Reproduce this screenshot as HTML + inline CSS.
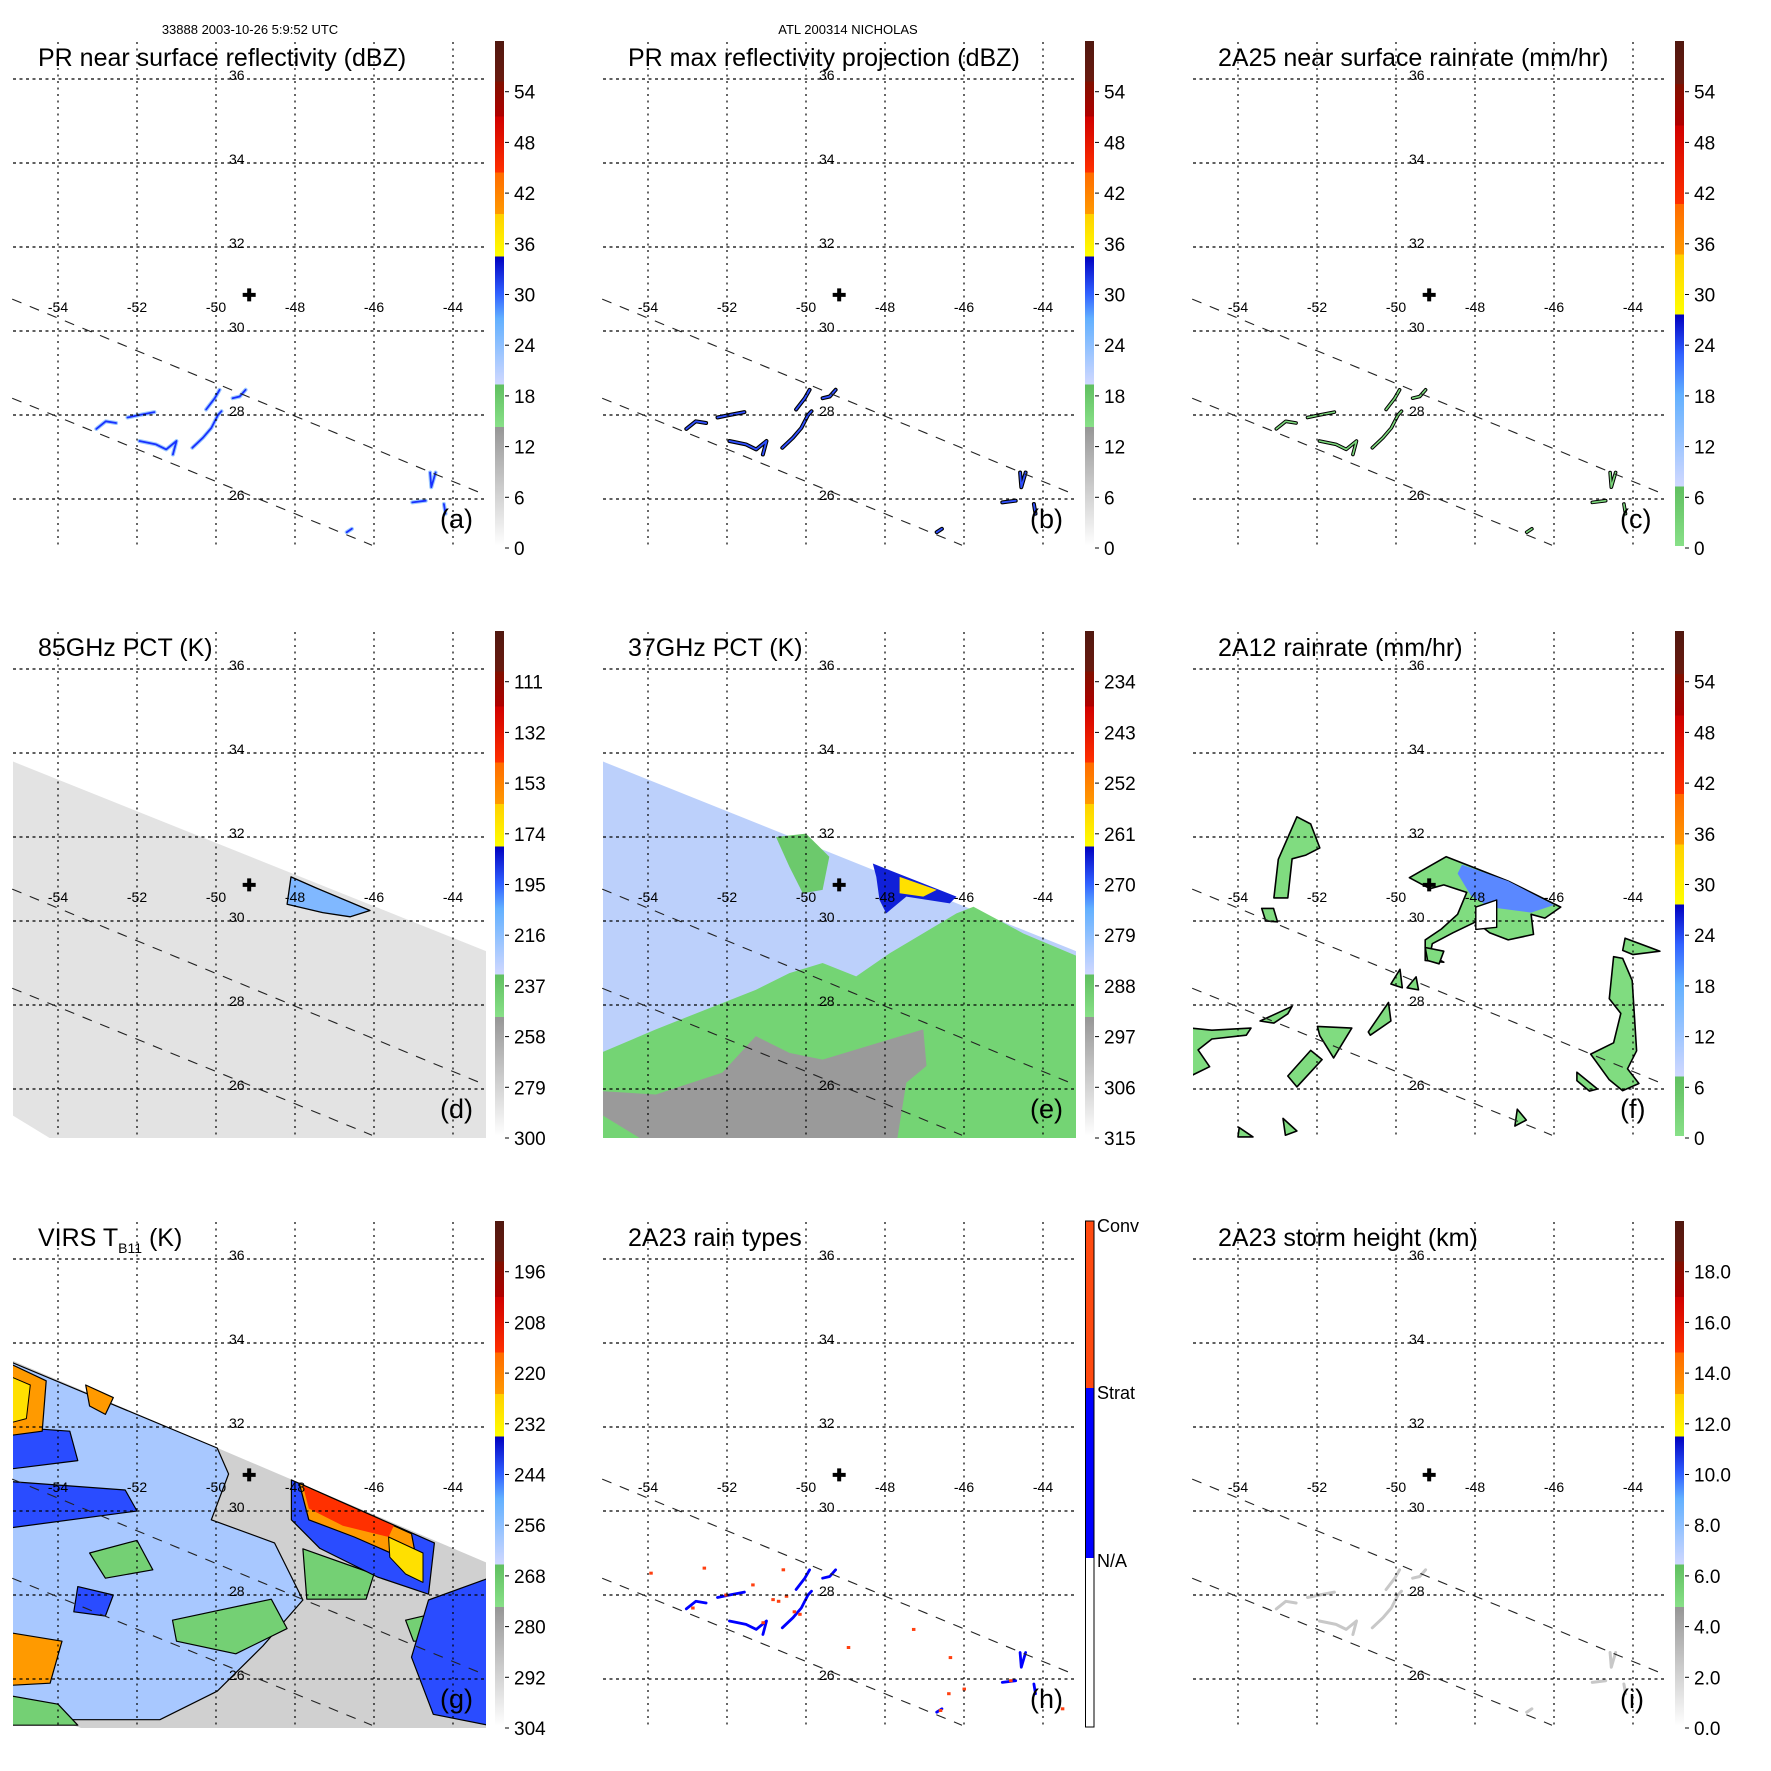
<!DOCTYPE html>
<html><head><meta charset="utf-8">
<style>
html,body{margin:0;padding:0;background:#fff;}
svg{display:block;font-family:"Liberation Sans",Arial,sans-serif;}
</style></head>
<body>
<svg id="fig" xmlns="http://www.w3.org/2000/svg" width="1771" height="1771" viewBox="0 0 1771 1771">
<defs id="defs"></defs>
<text x="250" y="34" font-size="13" text-anchor="middle">33888 2003-10-26 5:9:52 UTC</text>
<text x="848" y="34" font-size="13" text-anchor="middle">ATL 200314 NICHOLAS</text>
</svg>
<script>
// ---------- data ----------
const lonTicks = [-54,-52,-50,-48,-46,-44];
const latTicks = [26,28,30,32,34,36];
const stormCenter = [-49.16, 30.86];
const prSwathEdge1 = [[-55.16,30.76],[-43.34,26.16]];
const prSwathEdge2 = [[-55.16,28.4],[-46.05,24.9]];
const tmiSwath = [[-55.2,33.82],[-43.1,29.26],[-43.1,24.7],[-53.98,24.7],[-55.2,25.4]];
const virsSwath = [[-55.2,33.6],[-43.1,28.75],[-43.1,24.7],[-53.0,24.7],[-55.2,25.4]];
const labelsDbz = ['0','6','12','18','24','30','36','42','48','54'];
const labels85 = ['300','279','258','237','216','195','174','153','132','111'];
const labels37 = ['315','306','297','288','279','270','261','252','243','234'];
const labelsVirs = ['304','292','280','268','256','244','232','220','208','196'];
const labelsHeight = ['0.0','2.0','4.0','6.0','8.0','10.0','12.0','14.0','16.0','18.0'];
const rainSegments = [
 [[-53.03,27.67],[-52.79,27.85],[-52.53,27.81]],
 [[-52.24,27.94],[-51.94,28.0],[-51.56,28.07]],
 [[-51.94,27.38],[-51.52,27.3],[-51.26,27.18],[-51.0,27.38],[-51.09,27.06]],
 [[-50.6,27.22],[-50.33,27.46],[-50.12,27.69],[-49.95,28.0],[-49.86,28.09]],
 [[-50.25,28.13],[-50.03,28.4],[-49.91,28.6]],
 [[-49.58,28.4],[-49.4,28.44],[-49.25,28.6]],
 [[-44.58,26.63],[-44.55,26.28],[-44.44,26.63]],
 [[-45.03,25.92],[-44.69,25.96]],
 [[-44.23,25.88],[-44.19,25.65]],
 [[-46.69,25.21],[-46.56,25.29]]
];
const convSpecks = [[-50.58,28.6],[-50.84,27.89],[-50.5,27.97],[-51.35,28.24],[-50.16,27.54],[-52.87,27.69],[-52.03,28.0],[-52.58,28.64],[-53.93,28.52],[-47.28,27.18],[-48.93,26.75],[-46.35,26.51],[-46.39,25.65],[-46.6,25.25],[-44.82,25.96],[-46.0,25.76],[-43.51,25.29],[-51.09,27.34],[-50.7,27.85],[-50.3,27.6]];
const pct85Blue = [[-48.1,31.05],[-47.5,30.8],[-46.1,30.25],[-46.6,30.1],[-47.3,30.2],[-48.2,30.4]];
const pct37Green = [[-55.2,26.86],[-53.8,27.42],[-52.54,27.89],[-51.27,28.36],[-50.42,28.76],[-49.58,29.0],[-48.73,28.68],[-47.88,29.23],[-47.03,29.71],[-46.19,30.18],[-45.76,30.34],[-44.49,29.7],[-43.1,29.15],[-43.1,24.7],[-55.2,24.7]];
const pct37GreenTop = [[-50.76,32.0],[-50.0,32.08],[-49.41,31.53],[-49.58,30.74],[-50.08,30.66],[-50.42,31.29]];
const pct37Grey = [[-55.2,25.95],[-53.8,25.87],[-52.12,26.39],[-51.27,27.26],[-50.42,26.86],[-49.58,26.7],[-48.73,26.94],[-47.88,27.18],[-47.03,27.42],[-46.95,26.55],[-47.46,26.15],[-47.71,24.7],[-53.98,24.7],[-55.2,25.4]];
const pct37Blue = [[-48.31,31.37],[-47.88,31.21],[-46.19,30.58],[-46.36,30.42],[-47.46,30.58],[-47.97,30.18],[-48.14,30.5],[-48.22,31.05]];
const pct37Yellow = [[-47.63,31.05],[-46.69,30.74],[-47.03,30.58],[-47.63,30.66]];
const rain12Blobs = [
 [[-49.66,31.03],[-48.73,31.53],[-48.21,31.34],[-47.16,30.95],[-45.83,30.33],[-46.23,30.07],[-46.58,30.16],[-46.52,29.68],[-47.16,29.55],[-47.63,29.72],[-47.98,29.98],[-48.56,29.72],[-49.08,29.46],[-49.14,29.2],[-48.79,29.02],[-49.26,29.06],[-49.26,29.55],[-48.85,29.81],[-48.44,30.16],[-48.21,30.68],[-48.79,30.86],[-49.14,30.77]],
 [[-53.09,30.55],[-52.98,31.47],[-52.51,32.48],[-52.16,32.31],[-51.93,31.74],[-52.28,31.57],[-52.63,31.48],[-52.74,30.55]],
 [[-53.4,30.3],[-53.1,30.3],[-53.0,29.98],[-53.3,30.0]],
 [[-44.49,29.15],[-44.26,29.11],[-44.02,28.58],[-43.91,26.91],[-44.14,26.48],[-43.85,26.13],[-44.26,25.96],[-44.6,26.22],[-45.07,26.83],[-44.49,27.1],[-44.31,27.8],[-44.6,28.15]],
 [[-44.2,29.59],[-43.32,29.28],[-44.0,29.2],[-44.26,29.3]],
 [[-45.42,26.4],[-44.9,26.0],[-45.1,25.95],[-45.42,26.2]],
 [[-55.2,27.45],[-54.66,27.4],[-53.67,27.45],[-53.79,27.28],[-54.66,27.19],[-55.01,26.93],[-54.72,26.53],[-55.2,26.31]],
 [[-53.44,27.62],[-52.63,27.97],[-52.74,27.79],[-53.09,27.57]],
 [[-51.99,27.49],[-51.12,27.45],[-51.58,26.74],[-51.93,27.27]],
 [[-52.74,26.31],[-52.16,26.92],[-51.87,26.7],[-52.51,26.05]],
 [[-50.7,27.36],[-50.19,28.06],[-50.13,27.62],[-50.65,27.28]],
 [[-50.13,28.5],[-49.9,28.85],[-49.84,28.41]],
 [[-49.72,28.41],[-49.49,28.67],[-49.43,28.36]],
 [[-49.26,29.37],[-48.79,29.28],[-48.91,28.98],[-49.2,29.06]],
 [[-46.93,25.52],[-46.7,25.26],[-46.99,25.12]],
 [[-53.97,25.08],[-53.62,24.86],[-54.0,24.86]],
 [[-52.86,25.3],[-52.51,25.0],[-52.8,24.9]]
];
const rain12Blue = [[-48.33,31.34],[-47.16,30.95],[-46.0,30.38],[-46.58,30.2],[-47.63,30.33],[-48.1,30.6],[-48.44,31.13]];
const rain12Hole = [[-47.98,30.33],[-47.45,30.5],[-47.45,29.85],[-47.98,29.8]];
const virsCloud = [[-55.2,33.55],[-49.97,31.5],[-49.68,30.88],[-50.12,29.79],[-48.52,29.24],[-47.8,27.88],[-48.81,26.79],[-49.97,25.71],[-51.42,25.03],[-53.73,25.03],[-55.2,25.43]];
const virsGreen = [[[-51.1,27.4],[-48.6,27.9],[-48.2,27.2],[-49.5,26.6],[-51.0,26.9]],[[-53.2,29.0],[-52.0,29.3],[-51.6,28.6],[-52.8,28.4]],[[-55.2,25.6],[-54.0,25.4],[-53.5,24.9],[-55.2,24.9]],[[-47.8,29.1],[-46.0,28.5],[-46.2,27.9],[-47.7,27.9]],[[-45.2,27.4],[-44.3,27.6],[-44.5,26.9],[-45.0,26.9]]];
const virsDeepBlue = [[[-55.2,30.7],[-52.3,30.5],[-52.0,30.0],[-55.2,29.6]],[[-55.2,32.0],[-53.7,31.9],[-53.5,31.2],[-55.2,31.0]],[[-48.09,30.74],[-44.47,29.24],[-44.62,28.02],[-45.92,28.43],[-47.37,29.11],[-48.09,29.79]],[[-44.62,27.88],[-43.1,28.4],[-43.1,24.9],[-44.5,25.16],[-45.05,26.52]],[[-53.5,28.2],[-52.6,28.0],[-52.8,27.5],[-53.6,27.6]]];
const virsOrange = [[[-47.89,30.66],[-45.05,29.46],[-44.9,28.7],[-45.5,28.97],[-46.5,29.38],[-47.65,29.79]],[[-55.2,33.5],[-54.3,33.1],[-54.4,31.9],[-55.2,31.8]],[[-55.2,27.1],[-53.9,26.9],[-54.2,25.9],[-55.2,25.85]],[[-53.3,33.0],[-52.6,32.7],[-52.8,32.3],[-53.2,32.5]]];
const virsRed = [[-47.8,30.6],[-45.5,29.65],[-45.63,29.38],[-46.79,29.65],[-47.65,30.06]];
const virsYellow = [[[-45.63,29.38],[-44.76,29.0],[-44.76,28.3],[-45.2,28.5],[-45.6,28.9]],[[-55.2,33.2],[-54.7,33.0],[-54.8,32.2],[-55.2,32.1]]];

// ---------- helpers ----------
const NS = 'http://www.w3.org/2000/svg';
const svg = document.getElementById('fig');
const defs = document.getElementById('defs');
function px(lon){ return 216 + (lon + 50) * 39.5; }
function py(lat){ return 331 - (lat - 30) * 42; }
function pts(arr){ return arr.map(p => px(p[0]).toFixed(1) + ',' + py(p[1]).toFixed(1)).join(' '); }
function el(tag, parent, attrs){ const e = document.createElementNS(NS, tag); for (const k in attrs) e.setAttribute(k, attrs[k]); parent.appendChild(e); return e; }
function cbY(i){ return 548 - i * 50.7; }

const cmapA = [[0,'#ffffff'],[0.236,'#969696'],[0.236,'#88e088'],[0.32,'#5fbf5f'],[0.32,'#d0d8ff'],[0.45,'#62b0ff'],[0.5,'#3060ff'],[0.573,'#0000c0'],[0.573,'#ffff00'],[0.657,'#ffd000'],[0.657,'#ff9a00'],[0.74,'#ff6a00'],[0.74,'#ff3000'],[0.85,'#d00000'],[0.85,'#b00000'],[0.92,'#801000'],[0.92,'#6a1a10'],[1,'#501810']];
const cmapC = [[0,'#88e088'],[0.118,'#5fbf5f'],[0.118,'#d0d8ff'],[0.3,'#62b0ff'],[0.38,'#3060ff'],[0.458,'#0000c0'],[0.458,'#ffff00'],[0.577,'#ffd000'],[0.577,'#ff9a00'],[0.677,'#ff6a00'],[0.677,'#ff3000'],[0.833,'#d00000'],[0.833,'#b00000'],[0.915,'#801000'],[0.915,'#6a1a10'],[1,'#501810']];
function grad(id, stops){
  const g = el('linearGradient', defs, {id:id, x1:0, y1:1, x2:0, y2:0});
  stops.forEach(s => el('stop', g, {offset:s[0], 'stop-color':s[1]}));
}
grad('cmA', cmapA); grad('cmC', cmapC);

const panels = [
 {id:'a', col:0,row:0, title:'PR near surface reflectivity (dBZ)', cm:'cmA', labels:labelsDbz, kind:'pr'},
 {id:'b', col:1,row:0, title:'PR max reflectivity projection (dBZ)', cm:'cmA', labels:labelsDbz, kind:'prmax'},
 {id:'c', col:2,row:0, title:'2A25 near surface rainrate (mm/hr)', cm:'cmC', labels:labelsDbz, kind:'rain25'},
 {id:'d', col:0,row:1, title:'85GHz PCT (K)', cm:'cmA', labels:labels85, kind:'pct85'},
 {id:'e', col:1,row:1, title:'37GHz PCT (K)', cm:'cmA', labels:labels37, kind:'pct37'},
 {id:'f', col:2,row:1, title:'2A12 rainrate (mm/hr)', cm:'cmC', labels:labelsDbz, kind:'rain12'},
 {id:'g', col:0,row:2, title:'VIRS', cm:'cmA', labels:labelsVirs, kind:'virs'},
 {id:'h', col:1,row:2, title:'2A23 rain types', cm:null, labels:null, kind:'types'},
 {id:'i', col:2,row:2, title:'2A23 storm height (km)', cm:'cmA', labels:labelsHeight, kind:'height'}
];

function poly(g, arr, fill, stroke, sw, name){
  const p = el('polygon', g, {points:pts(arr), fill:fill, stroke:stroke||'none', 'stroke-width':sw||0, 'stroke-linejoin':'round'});
  
  
  return p;
}
function segs(g, color, w, name){
  rainSegments.forEach(s => {
    const l = el('polyline', g, {points:pts(s), fill:'none', stroke:color, 'stroke-width':w, 'stroke-linecap':'round', 'stroke-linejoin':'round'});
    
    
  });
}

panels.forEach(P => {
  const g = el('g', svg, {transform:'translate(' + (590*P.col) + ',' + (590*P.row) + ')'});
  
  
  const cp = el('clipPath', defs, {id:'clip' + P.id});
  el('rect', cp, {x:13, y:42, width:473, height:506});
  const data = el('g', g, {'clip-path':'url(#clip' + P.id + ')'});
  
  

  if (P.kind === 'pr') { segs(data, '#9cc8ff', 4, 'reflectivity-echo-halo'); segs(data, '#1830ff', 1.8, 'reflectivity-echo'); }
  if (P.kind === 'prmax') { segs(data, '#000', 4, 'max-reflectivity-contour'); segs(data, '#3050ff', 1.8, 'max-reflectivity-echo'); }
  if (P.kind === 'rain25') { segs(data, '#000', 3.6, 'rainrate-contour'); segs(data, '#7cd87c', 1.6, 'rainrate-echo'); }
  if (P.kind === 'height') { segs(data, '#c8c8c8', 3, 'storm-height-echo'); }
  if (P.kind === 'types') {
    segs(data, '#0000ff', 2.8, 'stratiform-rain');
    convSpecks.forEach(s => {
      const c = el('rect', data, {x:px(s[0])-1.5, y:py(s[1])-1.5, width:3.5, height:3, fill:'#ff4010'});
      
      
    });
  }
  if (P.kind === 'pct85') {
    poly(data, tmiSwath, '#e3e3e3', null, 0, 'pct85-swath');
    poly(data, pct85Blue, '#80b8ff', '#000', 1.3, 'pct85-cold-area');
  }
  if (P.kind === 'pct37') {
    poly(data, tmiSwath, '#bcd0fb', null, 0, 'pct37-swath');
    poly(data, pct37Green, '#74d474', null, 0, 'pct37-warm-area');
    poly(data, pct37GreenTop, '#6cc96c', null, 0, 'pct37-warm-patch');
    poly(data, pct37Grey, '#9a9a9a', null, 0, 'pct37-hot-area');
    poly(data, pct37Blue, '#1020d8', null, 0, 'pct37-cold-area');
    poly(data, pct37Yellow, '#ffe000', null, 0, 'pct37-coldest-area');
  }
  if (P.kind === 'rain12') {
    rain12Blobs.forEach(b => poly(data, b, '#80dc80', '#000', 1.6, 'rain12-blob'));
    poly(data, rain12Blue, '#5a88ff', null, 0, 'rain12-heavy-rain');
    poly(data, rain12Hole, '#ffffff', '#000', 1.4, 'rain12-hole');
  }
  if (P.kind === 'virs') {
    poly(data, virsSwath, '#d0d0d0', null, 0, 'virs-swath');
    poly(data, virsCloud, '#a8c8ff', '#000', 1.2, 'virs-cloud-area');
    virsGreen.forEach(b => poly(data, b, '#74d074', '#000', 1.2, 'virs-green-area'));
    virsDeepBlue.forEach(b => poly(data, b, '#2a4cff', '#000', 1.2, 'virs-cold-cloud'));
    virsOrange.forEach(b => poly(data, b, '#ff9a00', '#000', 1.2, 'virs-colder-cloud'));
    poly(data, virsRed, '#ff3000', null, 0, 'virs-coldest-cloud');
    virsYellow.forEach(b => poly(data, b, '#ffe000', '#000', 1, 'virs-yellow-cloud'));
  }

  // grid
  lonTicks.forEach(lon => {
    const l = el('line', g, {x1:px(lon), x2:px(lon), y1:42, y2:548, stroke:'#000', 'stroke-width':1.2, 'stroke-dasharray':'2,4.5'});
    
    
    const t = el('text', g, {x:px(lon), y:312, 'font-size':14, 'text-anchor':'middle'});
    t.textContent = String(lon);
    
    
  });
  latTicks.forEach(lat => {
    const l = el('line', g, {x1:13, x2:486, y1:py(lat), y2:py(lat), stroke:'#000', 'stroke-width':1.2, 'stroke-dasharray':'3,3.5'});
    
    
    const t = el('text', g, {x:229, y:py(lat)+1, 'font-size':14});
    t.textContent = String(lat);
    
    
  });
  [prSwathEdge1, prSwathEdge2].forEach(e => {
    const l = el('polyline', g, {points:pts(e), fill:'none', stroke:'#222', 'stroke-width':1.1, 'stroke-dasharray':'10,9'});
    
    
  });
  const cx = px(stormCenter[0]), cy = py(stormCenter[1]);
  const cross = el('path', g, {d:'M' + (cx-6.5) + ' ' + (cy-2) + 'h13v4h-13zM' + (cx-2) + ' ' + (cy-6.5) + 'h4v13h-4z', fill:'#000'});
  
  

  const t = el('text', g, {x:38, y:66, 'font-size':25});
  if (P.kind === 'virs') {
    t.innerHTML = 'VIRS T<tspan font-size="14" dy="7">B11</tspan><tspan dy="-7"> (K)</tspan>';
  } else t.textContent = P.title;
  
  
  const lt = el('text', g, {x:440, y:528, 'font-size':27});
  lt.textContent = '(' + P.id + ')';
  
  

  if (P.cm) {
    const r = el('rect', g, {x:495, y:41, width:9, height:505, fill:'url(#' + P.cm + ')'});
    
    
    P.labels.forEach((lab, i) => {
      const tk = el('line', g, {x1:505, x2:509, y1:cbY(i), y2:cbY(i), stroke:'#000', 'stroke-width':1});
      
      
      const tx = el('text', g, {x:514, y:cbY(i)+7, 'font-size':19});
      tx.textContent = lab;
      
      
    });
  } else {
    const r1 = el('rect', g, {x:495, y:41, width:9, height:167, fill:'#ff4a10'});
    
    
    const r2 = el('rect', g, {x:495, y:208, width:9, height:170, fill:'#0000ff'});
    
    
    const r3 = el('rect', g, {x:495.5, y:41, width:8.5, height:506, fill:'none', stroke:'#000', 'stroke-width':1});
    
    
    [['Conv',52],['Strat',219],['N/A',387]].forEach(L => {
      const tx = el('text', g, {x:507, y:L[1], 'font-size':18});
      tx.textContent = L[0];
      
      
    });
  }
});
</script>
</body></html>
